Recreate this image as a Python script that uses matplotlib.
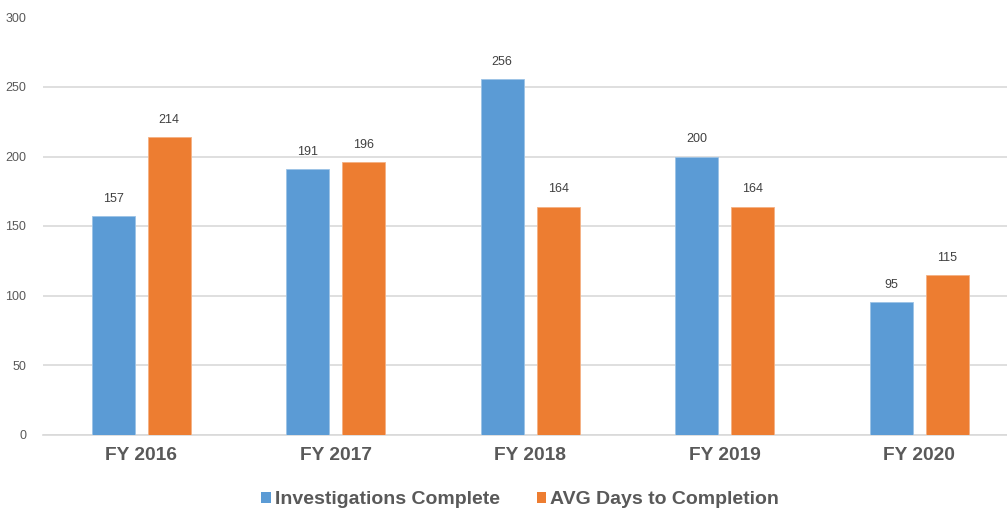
import matplotlib
matplotlib.use("Agg")
import matplotlib.pyplot as plt
import numpy as np
from matplotlib.patches import Patch

categories = ["FY 2016", "FY 2017", "FY 2018", "FY 2019", "FY 2020"]
investigations = [157, 191, 256, 200, 95]
avg_days = [214, 196, 164, 164, 115]
series_names = ["Investigations Complete", "AVG Days to Completion"]
yticks = [0, 50, 100, 150, 200, 250, 300]

plt.rcParams['font.family'] = ['Liberation Sans', 'DejaVu Sans']

fig = plt.figure(figsize=(10.07, 5.08), dpi=100)
ax = fig.add_axes([43/1007, 1-434.5/508, 1-43/1007, (434.5-17.5)/508])

blue = "#5B9BD5"
orange = "#ED7D31"
x = np.arange(len(categories))
w = 0.221
off = 0.144
b1 = ax.bar(x - off, investigations, w, color=blue, edgecolor="#9CC3E6", linewidth=0.6, zorder=3)
b2 = ax.bar(x + off, avg_days, w, color=orange, edgecolor="#F4B183", linewidth=0.6, zorder=3)

for bars, vals in ((b1, investigations), (b2, avg_days)):
    for r, v in zip(bars, vals):
        ax.annotate(str(v), (r.get_x() + r.get_width()/2, v), xytext=(0, 8),
                    textcoords="offset points", ha="center", va="bottom",
                    fontsize=9, color="#404040")

ax.set_ylim(0, 300)
ax.set_xlim(-0.504, 4.452)
ax.set_yticks(yticks)
ax.set_yticklabels([str(t) for t in yticks], fontsize=9, color="#595959")
ax.set_xticks(x)
ax.set_xticklabels(categories, fontsize=13.8, fontweight="bold", color="#595959")
ax.tick_params(axis="both", length=0)
ax.tick_params(axis="y", pad=12)
ax.tick_params(axis="x", pad=9)
ax.yaxis.grid(True, color="#d9d9d9", linewidth=1.2, zorder=0)
ax.set_axisbelow(True)
for s in ("top", "right", "left"):
    ax.spines[s].set_visible(False)
ax.spines["bottom"].set_color("#d9d9d9")
ax.spines["bottom"].set_linewidth(1.2)

handles = [Patch(facecolor=blue), Patch(facecolor=orange)]
fig.legend(handles, series_names, loc="center", bbox_to_anchor=(520/1007, 1-500/508),
           ncol=2, frameon=False, handlelength=0.5, handleheight=0.5,
           handletextpad=0.2, columnspacing=1.9,
           prop={"size": 14, "weight": "bold"}, labelcolor="#595959")

fig.savefig("out.png", dpi=100)
